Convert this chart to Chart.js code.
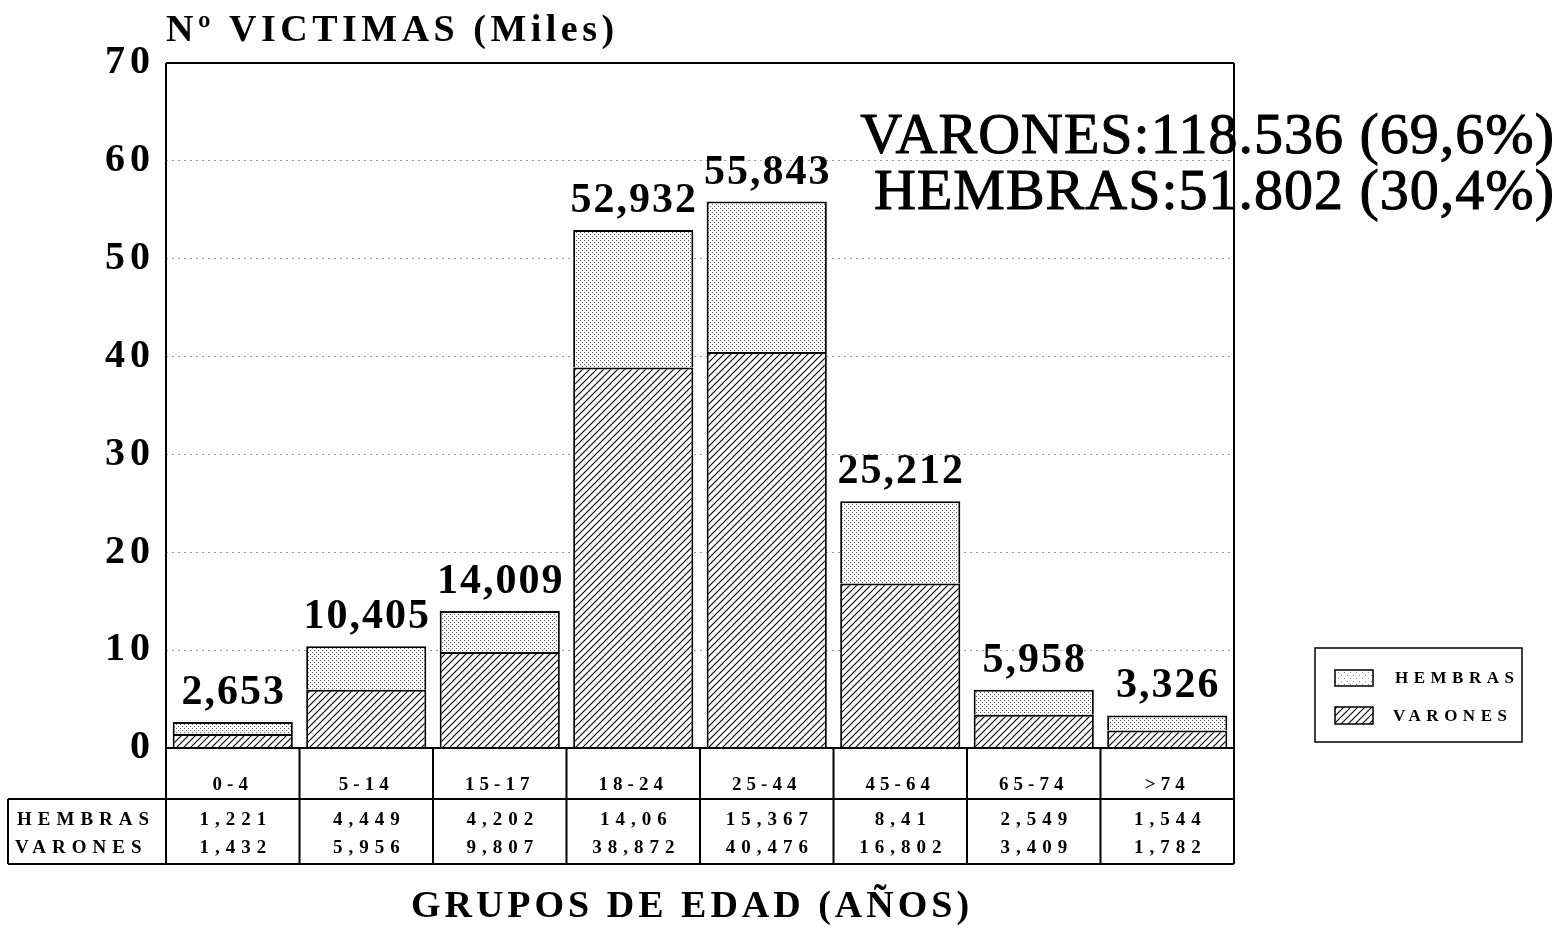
<!DOCTYPE html>
<html>
<head>
<meta charset="utf-8">
<script src="https://cdn.jsdelivr.net/npm/chart.js@4.4.0/dist/chart.umd.min.js"></script>
<style>
  html, body { margin: 0; padding: 0; background: #fff; }
  #wrap { width: 1560px; height: 928px; position: relative; }
</style>
</head>
<body>
<div id="wrap"><canvas id="victimasChart"></canvas></div>
<script>
// datos (miles de victimas)
var grupos = ['0-4', '5-14', '15-17', '18-24', '25-44', '45-64', '65-74', '>74'];
var hembras = [1.221, 4.449, 4.202, 14.06, 15.367, 8.41, 2.549, 1.544];
var varones = [1.432, 5.956, 9.807, 38.872, 40.476, 16.802, 3.409, 1.782];
var totales = [2.653, 10.405, 14.009, 52.932, 55.843, 25.212, 5.958, 3.326];
var yTicks = [0, 10, 20, 30, 40, 50, 60, 70];
var resumen = ['VARONES:118.536 (69,6%)', 'HEMBRAS:51.802 (30,4%)'];

var SERIF = '"Liberation Serif", "DejaVu Serif", serif';

function coma(v) {
    return String(v).replace('.', ',');
}

// rayado para varones
function rayado(size) {
    var c = document.createElement('canvas');
    c.width = c.height = size;
    var g = c.getContext('2d');
    g.fillStyle = '#fff';
    g.fillRect(0, 0, size, size);
    g.strokeStyle = '#000';
    g.lineWidth = 1.1;
    g.beginPath();
    g.moveTo(0, size); g.lineTo(size, 0);
    g.moveTo(-1, 1); g.lineTo(1, -1);
    g.moveTo(size - 1, size + 1); g.lineTo(size + 1, size - 1);
    g.stroke();
    return document.createElement('canvas').getContext('2d').createPattern(c, 'repeat');
}

// punteado para hembras
function punteado(size, color) {
    var c = document.createElement('canvas');
    c.width = c.height = size;
    var g = c.getContext('2d');
    g.fillStyle = '#fff';
    g.fillRect(0, 0, size, size);
    g.fillStyle = color;
    g.fillRect(0, 0, 1, 1);
    g.fillRect(size / 2, size / 2, 1, 1);
    return document.createElement('canvas').getContext('2d').createPattern(c, 'repeat');
}

var patVarones = rayado(7);
var patHembras = punteado(4, '#555');
var patHembrasLeyenda = punteado(6, '#888');

var tablaPlugin = {
    id: 'tabla',
    beforeDraw: function (chart) {
        chart.ctx.letterSpacing = '5px';
    },
    afterDraw: function (chart) {
        var ctx = chart.ctx;
        var a = chart.chartArea;
        var x = chart.scales.x;
        var y = chart.scales.y;
        var half = (x.getPixelForValue(1) - x.getPixelForValue(0)) / 2;
        var rowLine = 799, bottom = 864, labelLeft = 8;

        ctx.save();
        ctx.strokeStyle = '#000';
        ctx.lineWidth = 2;

        // filas de la tabla
        ctx.fillStyle = '#000';
        ctx.font = 'bold 19px ' + SERIF;
        ctx.letterSpacing = '6px';
        ctx.textBaseline = 'middle';
        ctx.textAlign = 'left';
        ctx.fillText('HEMBRAS', 17, 820);
        ctx.fillText('VARONES', 15, 848);
        ctx.textAlign = 'center';
        for (var j = 0; j < grupos.length; j++) {
            var cx = x.getPixelForValue(j) + 3;
            ctx.fillText(coma(hembras[j]), cx, 820);
            ctx.fillText(coma(varones[j]), cx, 848);
        }

        // totales sobre las barras
        ctx.font = 'bold 42px ' + SERIF;
        ctx.letterSpacing = '2px';
        ctx.textBaseline = 'alphabetic';
        for (var k = 0; k < totales.length; k++) {
            ctx.fillText(coma(totales[k]), x.getPixelForValue(k) + 1, y.getPixelForValue(totales[k]) - 18);
        }

        // titulos
        ctx.textAlign = 'left';
        ctx.font = 'bold 38px ' + SERIF;
        ctx.letterSpacing = '4.5px';
        ctx.fillText('N\u00BA VICTIMAS (Miles)', 166, 41);

        ctx.textAlign = 'center';
        ctx.letterSpacing = '4px';
        ctx.fillText('GRUPOS DE EDAD (A\u00D1OS)', 692, 917);

        // resumen
        ctx.textAlign = 'right';
        ctx.font = '58px ' + SERIF;
        ctx.letterSpacing = '1px';
        ctx.lineWidth = 1;
        ctx.fillText(resumen[0], 1555, 153);
        ctx.strokeText(resumen[0], 1555, 153);
        ctx.fillText(resumen[1], 1555, 209);
        ctx.strokeText(resumen[1], 1555, 209);

        // marco del grafico
        ctx.lineWidth = 2;
        ctx.beginPath();
        ctx.moveTo(a.left, a.top); ctx.lineTo(a.right, a.top);
        ctx.moveTo(a.left, a.top); ctx.lineTo(a.left, bottom);
        ctx.moveTo(a.right, a.top); ctx.lineTo(a.right, bottom);
        ctx.moveTo(a.left, a.bottom); ctx.lineTo(a.right, a.bottom);
        ctx.moveTo(labelLeft, rowLine); ctx.lineTo(a.right, rowLine);
        ctx.moveTo(labelLeft, bottom); ctx.lineTo(a.right, bottom);
        ctx.moveTo(labelLeft, rowLine); ctx.lineTo(labelLeft, bottom);
        for (var i = 1; i < grupos.length; i++) {
            var bx = x.getPixelForValue(i) - half;
            ctx.moveTo(bx, a.bottom); ctx.lineTo(bx, bottom);
        }
        ctx.stroke();

        // leyenda
        ctx.lineWidth = 1.5;
        ctx.strokeRect(1315, 648, 207, 94);
        ctx.fillStyle = patHembrasLeyenda;
        ctx.fillRect(1335, 670, 38, 16);
        ctx.strokeRect(1335, 670, 38, 16);
        ctx.fillStyle = patVarones;
        ctx.fillRect(1335, 707, 38, 17);
        ctx.strokeRect(1335, 707, 38, 17);
        ctx.fillStyle = '#000';
        ctx.textAlign = 'left';
        ctx.textBaseline = 'middle';
        ctx.font = 'bold 17px ' + SERIF;
        ctx.letterSpacing = '5.5px';
        ctx.fillText('HEMBRAS', 1395, 679);
        ctx.fillText('VARONES', 1393, 717);
        ctx.restore();
    }
};

var ctx = document.getElementById('victimasChart').getContext('2d');

var victimasChart = new Chart(ctx, {
    type: 'bar',
    data: {
        labels: grupos,
        datasets: [{
            label: 'VARONES',
            data: varones,
            backgroundColor: patVarones,
            borderColor: '#000',
            borderWidth: 2,
            barPercentage: 0.9,
            categoryPercentage: 1
        }, {
            label: 'HEMBRAS',
            data: hembras,
            backgroundColor: patHembras,
            borderColor: '#000',
            borderWidth: 2,
            barPercentage: 0.9,
            categoryPercentage: 1
        }]
    },
    options: {
        responsive: true,
        maintainAspectRatio: false,
        animation: false,
        layout: {
            padding: { left: 66, top: 63, right: 326, bottom: 128 }
        },
        plugins: {
            legend: { display: false },
            tooltip: { enabled: false }
        },
        scales: {
            x: {
                stacked: true,
                grid: { display: false },
                border: { display: false },
                ticks: {
                    color: '#000',
                    padding: 18,
                    maxRotation: 0,
                    font: { family: SERIF, size: 19, weight: 'bold' }
                },
                afterFit: function (s) { s.height = 52; }
            },
            y: {
                stacked: true,
                min: 0,
                max: 70,
                afterBuildTicks: function (s) {
                    s.ticks = yTicks.map(function (v) { return { value: v }; });
                },
                grid: { color: '#999', lineWidth: 1, drawTicks: false },
                border: { display: false, dash: [2, 4] },
                ticks: {
                    color: '#000',
                    padding: 11,
                    font: { family: SERIF, size: 40, weight: 'bold' }
                },
                afterFit: function (s) { s.width = 100; }
            }
        }
    },
    plugins: [tablaPlugin]
});
</script>
</body>
</html>
